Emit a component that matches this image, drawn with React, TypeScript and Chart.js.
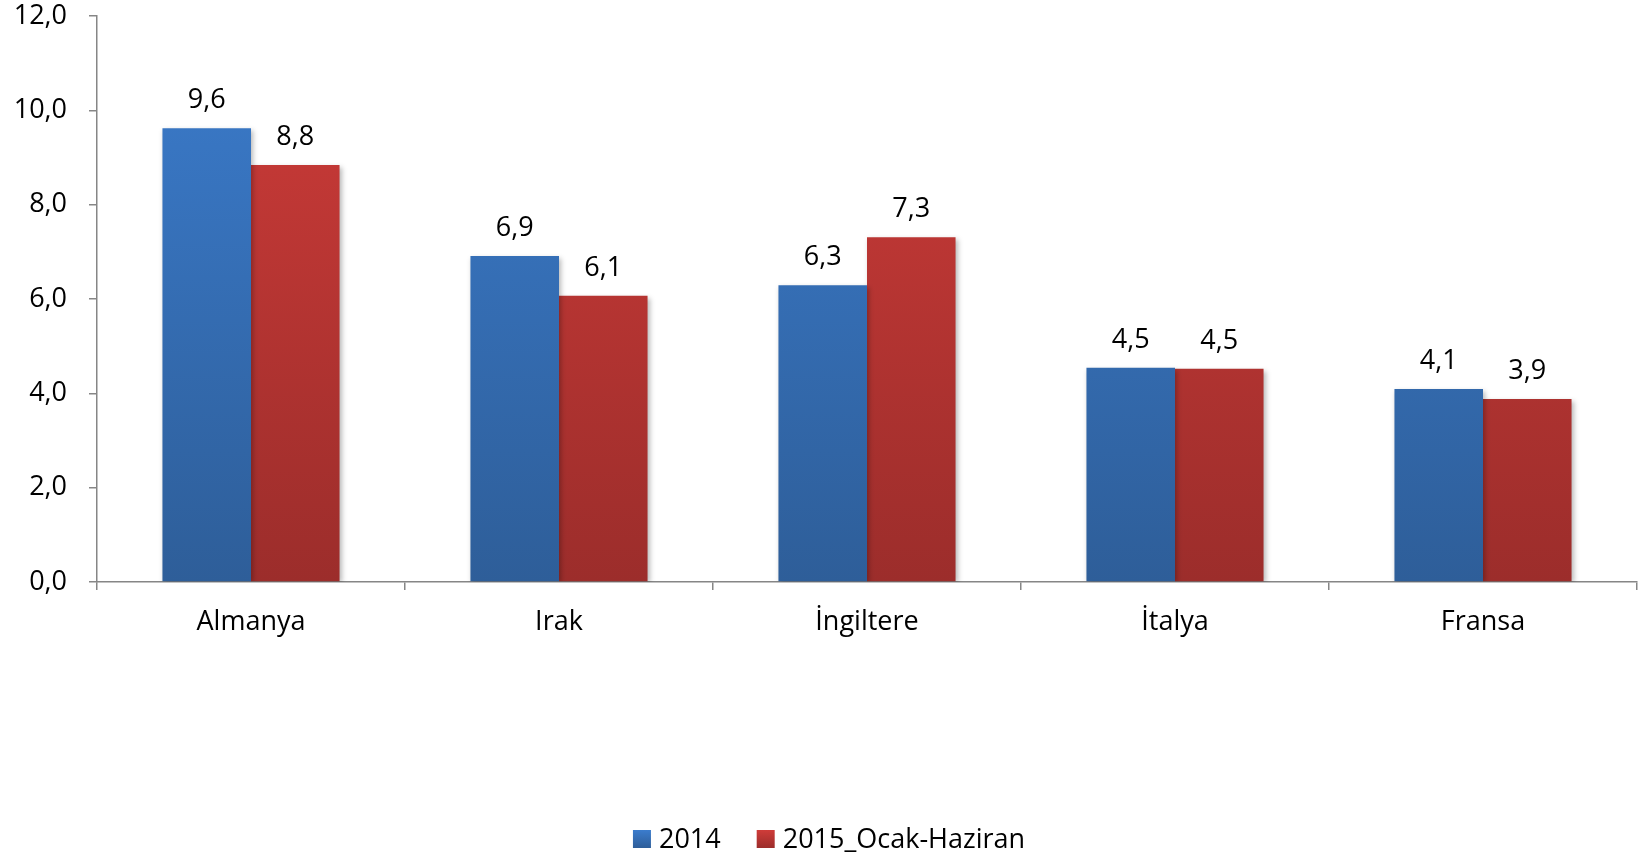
import React, { useEffect, useRef } from "react";
import { Chart, registerables } from "chart.js";

Chart.register(...registerables);

const categories = ["Almanya", "Irak", "İngiltere", "İtalya", "Fransa"];
const series2014 = [9.62, 6.91, 6.29, 4.54, 4.09];
const series2015 = [8.84, 6.07, 7.31, 4.52, 3.88];
const seriesNames = ["2014", "2015_Ocak-Haziran"];
const yTicks = [0, 2, 4, 6, 8, 10, 12];

const FONT = "'Open Sans', 'DejaVu Sans', sans-serif";
const fmt = (v: number) => v.toFixed(1).replace(".", ",");

function gradient(chart: any, top: string, bottom: string, fallback: string) {
  const area = chart.chartArea;
  if (!area) return fallback;
  const g = chart.ctx.createLinearGradient(0, area.top, 0, area.bottom);
  g.addColorStop(0, top);
  g.addColorStop(1, bottom);
  return g;
}

const shadowPlugin = {
  id: "barShadow",
  beforeDatasetsDraw(chart: any) {
    const ctx = chart.ctx;
    ctx.save();
    ctx.shadowColor = "rgba(0,0,0,0.28)";
    ctx.shadowBlur = 5;
    ctx.shadowOffsetX = 2;
    ctx.shadowOffsetY = 2;
  },
  afterDatasetsDraw(chart: any) {
    chart.ctx.restore();
  },
};

const labelPlugin = {
  id: "valueLabels",
  afterDraw(chart: any) {
    const ctx = chart.ctx;
    ctx.save();
    ctx.font = `27px ${FONT}`;
    ctx.fillStyle = "#000";
    ctx.textAlign = "center";
    ctx.textBaseline = "alphabetic";
    chart.data.datasets.forEach((ds: any, i: number) => {
      const meta = chart.getDatasetMeta(i);
      meta.data.forEach((el: any, j: number) => {
        ctx.fillText(fmt(ds.data[j]), el.x, el.y - 20);
      });
    });
    ctx.restore();
  },
};

const legendColors = [
  ["#3B7CCD", "#2E5E99"],
  ["#CF3C39", "#9C2D2B"],
];

const legendPlugin = {
  id: "bottomLegend",
  afterDraw(chart: any) {
    const ctx = chart.ctx;
    ctx.save();
    ctx.font = `27px ${FONT}`;
    ctx.textBaseline = "middle";
    ctx.textAlign = "left";
    const box = 18;
    const gap = 8;
    const itemGap = 36;
    const widths = chart.data.datasets.map((d: any) => box + gap + ctx.measureText(d.label).width);
    const total = widths.reduce((a: number, b: number) => a + b, 0) + itemGap * (widths.length - 1);
    let x = chart.width / 2 + 10 - total / 2;
    const cy = 839;
    chart.data.datasets.forEach((d: any, i: number) => {
      const g = ctx.createLinearGradient(0, cy - box / 2, 0, cy + box / 2);
      g.addColorStop(0, legendColors[i][0]);
      g.addColorStop(1, legendColors[i][1]);
      ctx.fillStyle = g;
      ctx.fillRect(x, cy - box / 2, box, box);
      ctx.fillStyle = "#000";
      ctx.fillText(d.label, x + box + gap, cy + 1);
      x += widths[i] + itemGap;
    });
    ctx.restore();
  },
};

export default function App() {
  const ref = useRef<HTMLCanvasElement | null>(null);
  useEffect(() => {
    document.body.style.margin = "0";
    const chart = new Chart(ref.current as HTMLCanvasElement, {
      type: "bar",
      data: {
        labels: categories,
        datasets: [
          {
            label: seriesNames[0],
            data: series2014,
            backgroundColor: (c: any) => gradient(c.chart, "#3B7CCD", "#2E5E99", "#3570B8"),
            categoryPercentage: 0.575,
            barPercentage: 1,
          },
          {
            label: seriesNames[1],
            data: series2015,
            backgroundColor: (c: any) => gradient(c.chart, "#CF3C39", "#9C2D2B", "#BE3734"),
            categoryPercentage: 0.575,
            barPercentage: 1,
          },
        ],
      },
      options: {
        responsive: false,
        animation: false,
        layout: { padding: { left: 0, right: 1, top: 0, bottom: 0 } },
        plugins: {
          tooltip: { enabled: false },
          legend: { display: false },
        },
        scales: {
          x: {
            afterFit: (axis: any) => {
              axis.height = 276;
            },
            border: { color: "#868686", width: 1.5 },
            grid: { display: true, drawOnChartArea: false, offset: true, tickLength: 8, color: "#868686", lineWidth: 1.5 },
            ticks: { font: { family: FONT, size: 27 }, color: "#000", padding: 16 },
          },
          y: {
            min: 0,
            max: 12,
            afterFit: (axis: any) => {
              axis.width = 97;
              axis.paddingTop = 16;
              axis.paddingBottom = 16;
            },
            afterBuildTicks: (axis: any) => {
              axis.ticks = yTicks.map((v) => ({ value: v }));
            },
            border: { color: "#868686", width: 1.5 },
            grid: { display: true, drawOnChartArea: false, tickLength: 8, color: "#868686", lineWidth: 1.5 },
            ticks: {
              font: { family: FONT, size: 27 },
              color: "#000",
              padding: 22,
              callback: (v: any) => fmt(Number(v)),
            },
          },
        },
      },
      plugins: [shadowPlugin, labelPlugin, legendPlugin],
    } as any);
    return () => chart.destroy();
  }, []);
  return (
    <div style={{ position: "fixed", left: 0, top: 0, width: 1638, height: 858, background: "#fff" }}>
      <canvas ref={ref} width={1638} height={858} style={{ display: "block" }} />
    </div>
  );
}
